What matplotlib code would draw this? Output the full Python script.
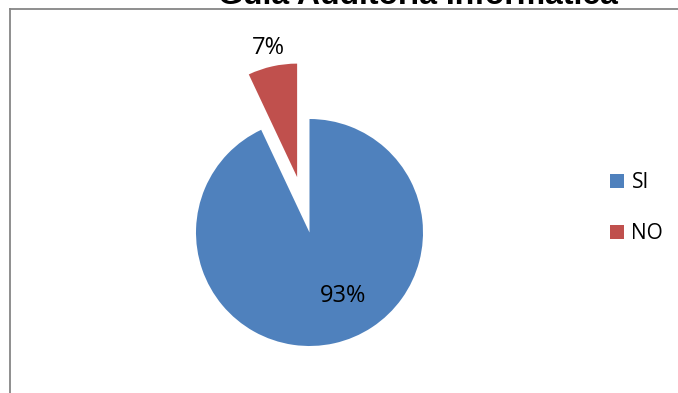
import matplotlib
matplotlib.use("Agg")
import matplotlib.pyplot as plt
from matplotlib.lines import Line2D
import numpy as np

# Survey answers
categories = ["SI", "NO"]
values = [93, 7]
colors = ["#4F81BD", "#C0504D"]
title = "Guía Auditoría Informática"

W, H = 678, 393
fig = plt.figure(figsize=(W / 100, H / 100), dpi=100)
fig.patch.set_facecolor("white")

# chart area border (top and left edges visible)
px = lambda x: x / W
py = lambda y: 1 - y / H
fig.add_artist(Line2D([px(10), px(10)], [py(9), py(400)], color="#868686", lw=1.3,
                      transform=fig.transFigure))
fig.add_artist(Line2D([px(10), px(700)], [py(9), py(9)], color="#868686", lw=1.3,
                      transform=fig.transFigure))

fig.text(px(418), py(4), title, ha="center", va="baseline",
         fontsize=23, fontweight="bold", family="Liberation Sans")

# pie axes: radius 1 maps to ~113.5 px, centre at (309.5, 232.5)
R = 113.5
k = 1.6
side = 2 * R * k
cx, cy = 309.5, 232.5
ax = fig.add_axes([(cx - side / 2) / W, (H - cy - side / 2) / H, side / W, side / H])

wedges, texts, autotexts = ax.pie(
    values, colors=colors, startangle=90, counterclock=False,
    explode=[0, 0.5], radius=1, autopct="%1.0f%%", pctdistance=0.65,
    wedgeprops=dict(linewidth=0), textprops=dict(fontsize=17, family="Open Sans", color="black"),
)
ax.set_xlim(-k, k)
ax.set_ylim(-k, k)
ax.set_aspect("equal")
ax.axis("off")
for w in wedges:
    w.set_clip_on(False)

# place percentage labels: inside for the large slice, outside for the small one
for w, t, dist, turn in zip(wedges, autotexts, [0.63, 1.17], [15, 0]):
    ang = np.deg2rad((w.theta1 + w.theta2) / 2 + turn)
    c = w.center
    t.set_position((c[0] + dist * np.cos(ang), c[1] + dist * np.sin(ang)))
    t.set_ha("center")
    t.set_va("center")
    t.set_clip_on(False)

leg = fig.legend(wedges, categories, loc="upper left",
                 bbox_to_anchor=(px(610), py(172)), frameon=False,
                 prop=dict(family="Open Sans", size=15),
                 handlelength=0.68, handleheight=0.68, handletextpad=0.35,
                 labelspacing=1.45, borderpad=0, borderaxespad=0)

fig.savefig("out.png", dpi=100)
